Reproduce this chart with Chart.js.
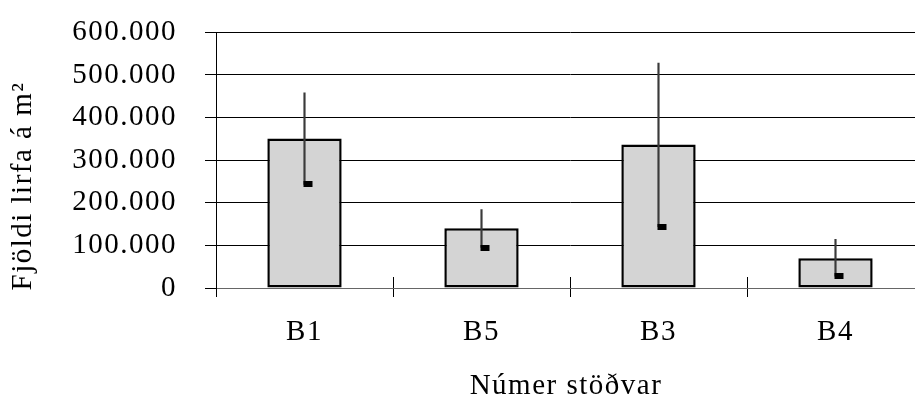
<!DOCTYPE html>
<html lang="is">
<head>
    <meta charset="UTF-8">
    <title>Fjöldi lirfa á m²</title>
    <style>
        html, body { margin: 0; padding: 0; background: #fff; overflow: hidden; }
        #wrap { width: 930px; height: 405px; }
    </style>
</head>
<body>
    <div id="wrap"><canvas id="chart" width="930" height="405"></canvas></div>
    <script src="https://cdn.jsdelivr.net/npm/chart.js"></script>
    <script>
        // values
        const stations = ["B1", "B5", "B3", "B4"];
        const means = [351000, 140000, 337000, 70000];
        const medians = [243000, 95000, 144000, 28000];
        const maxima = [458000, 184000, 528000, 114000];
        const yTicks = [0, 100000, 200000, 300000, 400000, 500000, 600000];

        const FONT = "'Liberation Serif', 'Times New Roman', serif";

        // small black marker, drawn to the right of the whisker
        const marker = document.createElement("canvas");
        marker.width = 20;
        marker.height = 6;
        const mctx = marker.getContext("2d");
        mctx.fillStyle = "#000";
        mctx.fillRect(9, 0, 9, 6);

        const fmt = v => v === 0 ? "0" : v.toLocaleString("de-DE");

        const extras = {
            id: "extras",
            beforeDraw(chart) {
                chart.ctx.letterSpacing = "1.5px";
            },
            afterDraw(chart) {
                const ctx = chart.ctx;
                const x = chart.scales.x;
                const area = chart.chartArea;
                ctx.save();
                // x ticks cross the axis line
                ctx.strokeStyle = "#000";
                ctx.lineWidth = 1;
                for (let i = 1; i < stations.length; i++) {
                    const px = Math.round((x.getPixelForValue(i - 1) + x.getPixelForValue(i)) / 2) + 0.5;
                    ctx.beginPath();
                    ctx.moveTo(px, area.bottom - 11);
                    ctx.lineTo(px, area.bottom);
                    ctx.stroke();
                }
                // axis titles
                ctx.fillStyle = "#000";
                ctx.font = "29px " + FONT;
                ctx.letterSpacing = "1.5px";
                ctx.textAlign = "center";
                ctx.textBaseline = "alphabetic";
                ctx.fillText("Númer stöðvar", 566, 394);
                ctx.translate(31, 186);
                ctx.rotate(-Math.PI / 2);
                ctx.fillText("Fjöldi lirfa á m²", 0, 0);
                ctx.restore();
            }
        };

        new Chart(document.getElementById("chart"), {
            data: {
                labels: stations,
                datasets: [
                    {
                        type: "line",
                        data: medians,
                        showLine: false,
                        pointStyle: marker,
                        pointRadius: 5,
                        pointHoverRadius: 5
                    },
                    {
                        type: "bar",
                        data: stations.map((s, i) => [medians[i], maxima[i]]),
                        backgroundColor: "#3a3a3a",
                        borderWidth: 0,
                        barThickness: 1.5,
                        grouped: false
                    },
                    {
                        type: "bar",
                        data: means,
                        backgroundColor: "#d4d4d4",
                        borderColor: "#000",
                        borderWidth: 2.5,
                        borderSkipped: false,
                        categoryPercentage: 1,
                        barPercentage: 0.42,
                        grouped: false
                    }
                ]
            },
            options: {
                responsive: false,
                animation: false,
                events: [],
                layout: { padding: { top: 28, right: 2, left: 0, bottom: 0 } },
                plugins: {
                    legend: { display: false },
                    tooltip: { enabled: false }
                },
                scales: {
                    x: {
                        offset: true,
                        grid: {
                            offset: true,
                            drawOnChartArea: false,
                            color: "#000",
                            tickLength: 9
                        },
                        border: { color: "#666", width: 1 },
                        ticks: {
                            color: "#000",
                            font: { family: FONT, size: 29 },
                            padding: 18
                        },
                        afterFit(scale) { scale.height = 117; }
                    },
                    y: {
                        min: 0,
                        max: 600000,
                        afterBuildTicks(scale) {
                            scale.ticks = yTicks.map(v => ({ value: v }));
                        },
                        grid: {
                            color: "#000",
                            lineWidth: 1,
                            tickLength: 11
                        },
                        border: { color: "#000", width: 1 },
                        ticks: {
                            color: "#000",
                            font: { family: FONT, size: 29, lineHeight: 0.3 },
                            padding: 28,
                            callback: v => fmt(v)
                        },
                        afterFit(scale) { scale.width = 216; }
                    }
                }
            },
            plugins: [extras]
        });
    </script>
</body>
</html>
